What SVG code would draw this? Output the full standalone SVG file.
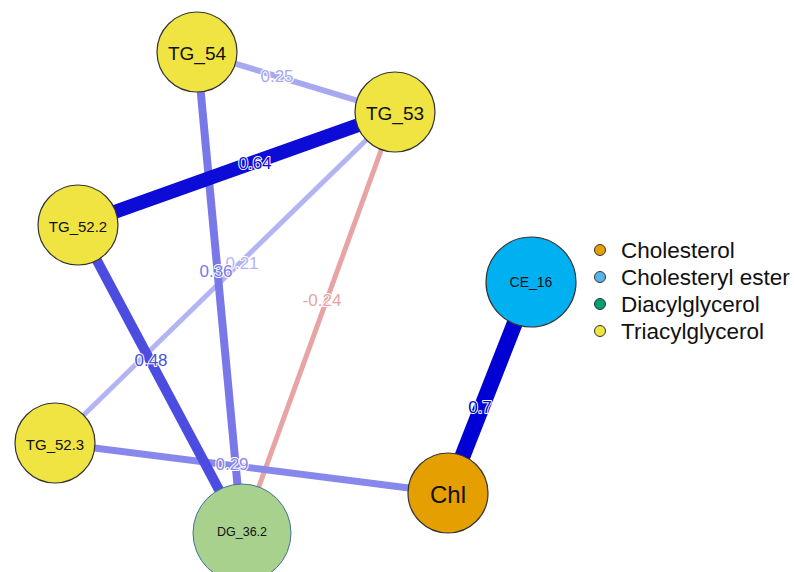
<svg xmlns="http://www.w3.org/2000/svg" width="794" height="572" viewBox="0 0 794 572">
<style>
.node{stroke:#333;stroke-width:1.2}
.lbl{font-family:"Liberation Sans",Arial,sans-serif;fill:#111;text-anchor:middle;dominant-baseline:central}
.el{font-family:"Liberation Sans",Arial,sans-serif;font-size:17px;text-anchor:middle;dominant-baseline:central;stroke:#fff;stroke-width:2;paint-order:stroke;stroke-linejoin:round}
.leg{font-family:"Liberation Sans",Arial,sans-serif;font-size:22.5px;fill:#111;dominant-baseline:central}
.dot{stroke:#333;stroke-width:1}
</style>
<rect width="794" height="572" fill="#fff"/>
<g id="connectors" fill="none">
  <line x1="197" y1="52" x2="395" y2="112" stroke="#a8a8f0" stroke-width="6"/>
  <line x1="395" y1="112" x2="55" y2="443" stroke="#b4b4f4" stroke-width="5"/>
  <line x1="395" y1="112" x2="242" y2="533" stroke="#e8a4a4" stroke-width="5"/>
  <line x1="197" y1="52" x2="242" y2="533" stroke="#7878e8" stroke-width="8"/>
  <line x1="55" y1="443" x2="448" y2="493" stroke="#8888ec" stroke-width="7"/>
  <line x1="78" y1="225" x2="242" y2="533" stroke="#4c4ce0" stroke-width="10"/>
  <line x1="395" y1="112" x2="78" y2="225" stroke="#0c0cd6" stroke-width="14"/>
  <line x1="531" y1="282" x2="448" y2="493" stroke="#0000d4" stroke-width="16"/>
  <text class="el" x="277" y="76" fill="#a8a8f0">0.25</text>
  <text class="el" x="255" y="163" fill="#0c0cd6">0.64</text>
  <text class="el" x="242" y="263" fill="#b4b4f4">0.21</text>
  <text class="el" x="216" y="271" fill="#7878e8">0.36</text>
  <text class="el" x="322" y="300" fill="#e8a4a4">-0.24</text>
  <text class="el" x="151" y="360" fill="#4c4ce0">0.48</text>
  <text class="el" x="232" y="464" fill="#8888ec">0.29</text>
  <text class="el" x="480" y="407" fill="#0000d4">0.7</text>
</g>
<g id="TG_54"><circle class="node" cx="197" cy="52" r="40" fill="#f0e442"/><text class="lbl" x="197" y="53" font-size="19">TG_54</text></g>
<g id="TG_53"><circle class="node" cx="395" cy="112" r="40" fill="#f0e442"/><text class="lbl" x="395" y="113" font-size="19">TG_53</text></g>
<g id="TG_52.2"><circle class="node" cx="78" cy="225" r="40" fill="#f0e442"/><text class="lbl" x="78" y="226" font-size="15">TG_52.2</text></g>
<g id="TG_52.3"><circle class="node" cx="55" cy="443" r="40" fill="#f0e442"/><text class="lbl" x="55" y="444" font-size="15">TG_52.3</text></g>
<g id="DG_36.2"><circle cx="242" cy="533" r="49" fill="#a9d18e" stroke="#41719c" stroke-width="1"/><text class="lbl" x="242" y="532" font-size="12.5">DG_36.2</text></g>
<g id="Chl"><circle class="node" cx="448" cy="493" r="40" fill="#e69f00"/><text class="lbl" x="448" y="494" font-size="24">Chl</text></g>
<g id="CE_16"><circle class="node" cx="531" cy="282" r="45" fill="#00b0f0"/><text class="lbl" x="531" y="282" font-size="14">CE_16</text></g>
<g id="legend">
  <circle class="dot" cx="600" cy="250" r="5.5" fill="#e69f00"/><text class="leg" x="621" y="250">Cholesterol</text>
  <circle class="dot" cx="600" cy="277" r="5.5" fill="#56b4e9"/><text class="leg" x="621" y="277">Cholesteryl ester</text>
  <circle class="dot" cx="600" cy="304" r="5.5" fill="#009e73"/><text class="leg" x="621" y="304">Diacylglycerol</text>
  <circle class="dot" cx="600" cy="331" r="5.5" fill="#f0e442"/><text class="leg" x="621" y="331">Triacylglycerol</text>
</g>
</svg>
